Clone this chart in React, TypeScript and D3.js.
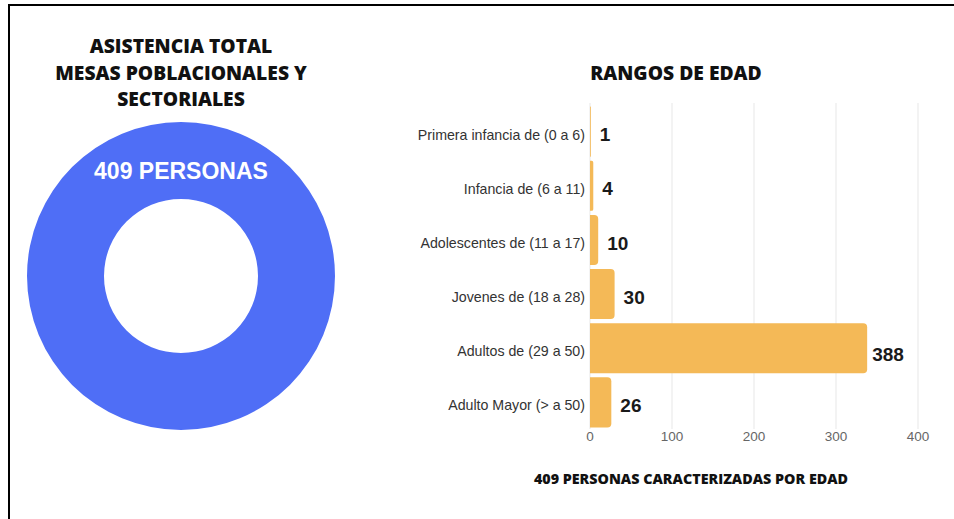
import React from "react";
import * as d3 from "d3";

const categories = [
  "Primera infancia de (0 a 6)",
  "Infancia de (6 a 11)",
  "Adolescentes de (11 a 17)",
  "Jovenes de (18 a 28)",
  "Adultos de (29 a 50)",
  "Adulto Mayor (> a 50)",
];
const values = [1, 4, 10, 30, 338, 26];
const valueLabels = ["1", "4", "10", "30", "388", "26"];
const xTicks = [0, 100, 200, 300, 400];
const donutValues = [409];
const leftTitle = ["ASISTENCIA TOTAL", "MESAS POBLACIONALES Y", "SECTORIALES"];
const donutLabel = "409 PERSONAS";
const rightTitle = "RANGOS DE EDAD";
const bottomTitle = "409 PERSONAS CARACTERIZADAS POR EDAD";

const W = 954;
const H = 519;
const BLUE = "#4f6ef6";
const ORANGE = "#f4b957";
const TITLE_FONT = "'Open Sans', 'DejaVu Sans', sans-serif";
const LABEL_FONT = "'Liberation Sans', Arial, sans-serif";

function roundedRightBar(x0: number, y: number, w: number, h: number, r: number) {
  const rr = Math.max(0, Math.min(r, w / 2, h / 2));
  const p = d3.path();
  p.moveTo(x0, y);
  p.lineTo(x0 + w - rr, y);
  p.arcTo(x0 + w, y, x0 + w, y + rr, rr);
  p.lineTo(x0 + w, y + h - rr);
  p.arcTo(x0 + w, y + h, x0 + w - rr, y + h, rr);
  p.lineTo(x0, y + h);
  p.closePath();
  return p.toString();
}

export default function App() {
  const x = d3.scaleLinear().domain([0, 400]).range([590, 918]);
  const y = d3.scaleBand<string>().domain(categories).range([105, 429]).paddingInner(0.075).paddingOuter(0.03);

  const pie = d3.pie<number>().sort(null)(donutValues);
  const arc = d3.arc<d3.PieArcDatum<number>>().innerRadius(77).outerRadius(154);
  const cx = 181;
  const cy = 276;

  return (
    <svg
      width={W}
      height={H}
      viewBox={`0 0 ${W} ${H}`}
      style={{ position: "fixed", left: 0, top: 0, background: "#fff" }}
    >
      <rect x={0} y={0} width={W} height={H} fill="#fff" />
      {/* frame */}
      <line x1={9} y1={4} x2={9} y2={H} stroke="#000" strokeWidth={2} />
      <line x1={8} y1={5} x2={W} y2={5} stroke="#000" strokeWidth={2} />

      {/* left title */}
      {leftTitle.map((t, i) => (
        <text
          key={t}
          x={181}
          y={53 + i * 26.5}
          textAnchor="middle"
          fontFamily={TITLE_FONT}
          fontWeight={800}
          fontSize={19.3}
          fill="#111"
        >
          {t}
        </text>
      ))}

      {/* donut */}
      <g transform={`translate(${cx},${cy})`}>
        {pie.map((d, i) => (
          <path key={i} d={arc(d) || ""} fill={BLUE} />
        ))}
      </g>
      <text
        x={181}
        y={179}
        textAnchor="middle"
        fontFamily={LABEL_FONT}
        fontWeight={700}
        fontSize={23}
        fill="#fff"
      >
        {donutLabel}
      </text>

      {/* right title */}
      <text
        x={676}
        y={80}
        textAnchor="middle"
        fontFamily={TITLE_FONT}
        fontWeight={800}
        fontSize={19.3}
        fill="#111"
      >
        {rightTitle}
      </text>

      {/* grid */}
      {xTicks.map((t) => (
        <line
          key={"g" + t}
          x1={x(t)}
          x2={x(t)}
          y1={103}
          y2={429}
          stroke="#efefef"
          strokeWidth={1.5}
        />
      ))}

      {/* bars */}
      {categories.map((c, i) => {
        const by = y(c) as number;
        const bh = y.bandwidth();
        const w = x(values[i]) - x(0);
        return (
          <g key={c}>
            <path d={roundedRightBar(x(0), by, w, bh, 4)} fill={ORANGE} />
            <text
              x={x(0) - 5}
              y={by + bh / 2 + 3}
              dy="0.35em"
              textAnchor="end"
              fontFamily={LABEL_FONT}
              fontSize={14.2}
              fill="#333"
            >
              {c}
            </text>
            <text
              x={x(values[i]) + (values[i] > 100 ? 5 : 9)}
              y={by + bh / 2 + (values[i] > 100 ? 6 : 3)}
              dy="0.35em"
              fontFamily={LABEL_FONT}
              fontWeight={700}
              fontSize={19}
              fill="#1a1a1a"
            >
              {valueLabels[i]}
            </text>
          </g>
        );
      })}

      {/* x ticks */}
      {xTicks.map((t) => (
        <text
          key={"t" + t}
          x={x(t)}
          y={441}
          textAnchor="middle"
          fontFamily={LABEL_FONT}
          fontSize={13.5}
          fill="#666"
        >
          {t}
        </text>
      ))}

      {/* bottom title */}
      <text
        x={691}
        y={484}
        textAnchor="middle"
        fontFamily={TITLE_FONT}
        fontWeight={800}
        fontSize={14.3}
        fill="#111"
      >
        {bottomTitle}
      </text>
    </svg>
  );
}
